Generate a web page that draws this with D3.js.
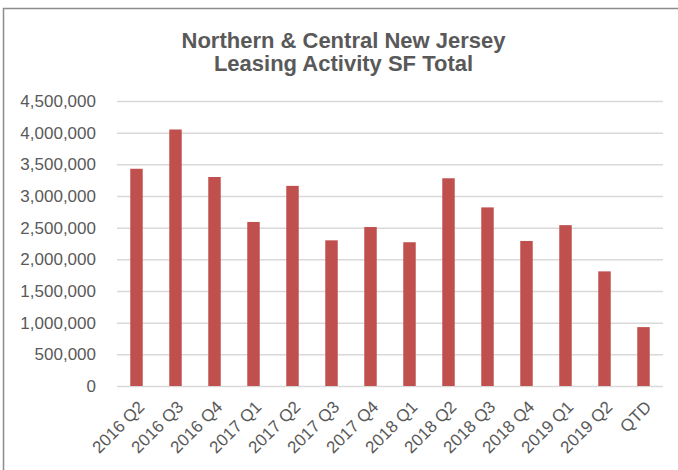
<!DOCTYPE html>
<html>
<head>
<meta charset="utf-8">
<script src="https://cdn.jsdelivr.net/npm/d3@7"></script>
<style>
  body { margin: 0; background: #fff; }
  text { font-family: "Liberation Sans", Arial, sans-serif; }
</style>
</head>
<body>
<div id="wrap"></div>
<script>
var categories = ["2016 Q2","2016 Q3","2016 Q4","2017 Q1","2017 Q2","2017 Q3","2017 Q4",
                  "2018 Q1","2018 Q2","2018 Q3","2018 Q4","2019 Q1","2019 Q2","QTD"];
var leasingSF = [3430000, 4050000, 3300000, 2590000, 3160000, 2300000, 2510000,
                 2270000, 3280000, 2820000, 2290000, 2540000, 1810000, 930000];
var yTicks = [0, 500000, 1000000, 1500000, 2000000, 2500000, 3000000, 3500000, 4000000, 4500000];
var titleLines = ["Northern & Central New Jersey", "Leasing Activity SF Total"];

var W = 678, H = 470;
var margin = {top: 101, right: 15, bottom: 84, left: 117};
var width = W - margin.left - margin.right,
    height = H - margin.top - margin.bottom;

var svg = d3.select('#wrap').append('svg')
  .attr('width', W)
  .attr('height', H);

// chart frame
svg.append('rect')
  .attr('x', 3.5).attr('y', 8.5)
  .attr('width', W + 20).attr('height', H + 20)
  .style('fill', '#fff')
  .style('stroke', '#8c8c8c')
  .style('stroke-width', 1.5);

// title
svg.append('g').selectAll('text')
  .data(titleLines)
  .enter().append('text')
    .attr('x', 343.5)
    .attr('y', function(d, i) { return 48 + i * 23; })
    .attr('text-anchor', 'middle')
    .style('font-size', '22px')
    .style('font-weight', 'bold')
    .style('fill', '#595959')
    .text(function(d) { return d; });

var g = svg.append('g')
  .attr('transform', 'translate(' + margin.left + ',' + margin.top + ')');

var x = d3.scaleBand()
  .domain(categories)
  .range([0, width])
  .paddingInner(0.68)
  .paddingOuter(0.34);

var y = d3.scaleLinear()
  .domain([0, 4500000])
  .range([height, 0]);

// gridlines
var yAxis = d3.axisLeft(y)
  .tickValues(yTicks)
  .tickSize(-width)
  .tickPadding(21)
  .tickFormat(d3.format(','));

var yg = g.append('g').call(yAxis);
yg.select('.domain').remove();
yg.selectAll('.tick line')
  .style('stroke', '#d9d9d9')
  .style('stroke-width', 1.5);
yg.selectAll('.tick text')
  .style('font-size', '17px')
  .style('fill', '#595959');

// bars
g.selectAll('.bar')
  .data(leasingSF)
  .enter().append('rect')
    .attr('class', 'bar')
    .attr('x', function(d, i) { return x(categories[i]); })
    .attr('y', function(d) { return y(d); })
    .attr('width', x.bandwidth())
    .attr('height', function(d) { return height - y(d); })
    .style('fill', '#c0504d');

// x labels
var xAxis = d3.axisBottom(x).tickSize(0).tickPadding(0);
var xg = g.append('g')
  .attr('transform', 'translate(0,' + height + ')')
  .call(xAxis);
xg.select('.domain').remove();
xg.selectAll('.tick text')
  .attr('text-anchor', 'end')
  .attr('transform', 'translate(9,22) rotate(-45)')
  .attr('dy', 0)
  .style('font-size', '17px')
  .style('fill', '#595959');
</script>
</body>
</html>
